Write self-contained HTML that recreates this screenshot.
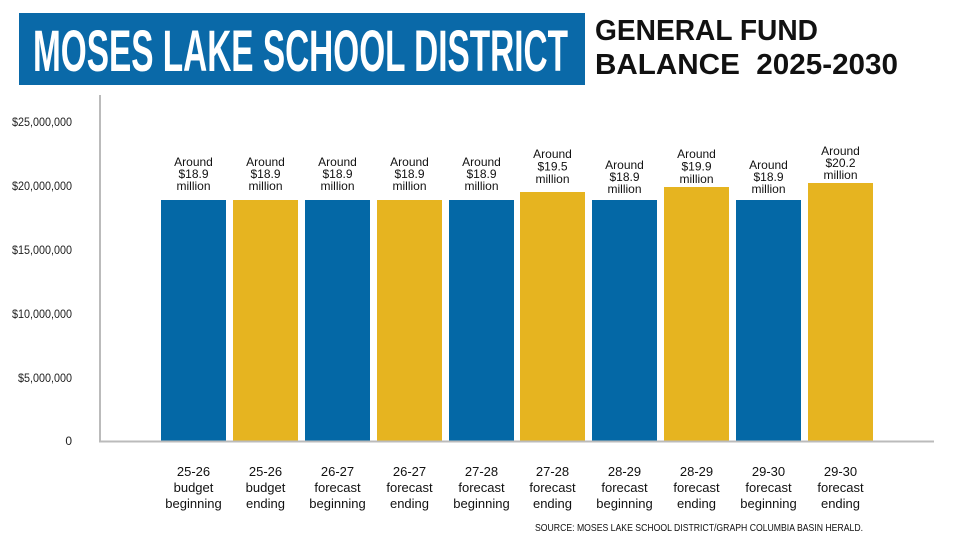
<!DOCTYPE html>
<html>
<head>
<meta charset="utf-8">
<style>
html,body{margin:0;padding:0;background:#fff;}
svg{display:block;}
text{font-family:"Liberation Sans",sans-serif;}
</style>
</head>
<body>
<svg width="960" height="540" viewBox="0 0 960 540" xmlns="http://www.w3.org/2000/svg">
<rect x="0" y="0" width="960" height="540" fill="#fff"/>
<!-- Title box -->
<rect x="19" y="13" width="566" height="72" fill="#0A69A8"/>
<text x="33" y="71" font-size="58" font-weight="bold" fill="#fff" textLength="535" lengthAdjust="spacingAndGlyphs">MOSES LAKE SCHOOL DISTRICT</text>
<text x="595" y="40" font-size="29" font-weight="bold" fill="#111" textLength="223" lengthAdjust="spacingAndGlyphs">GENERAL FUND</text>
<text x="595" y="74" font-size="29" font-weight="bold" fill="#111" textLength="303" lengthAdjust="spacingAndGlyphs" xml:space="preserve">BALANCE  2025-2030</text>

<!-- Y axis labels -->
<g font-size="12" fill="#222" text-anchor="end">
<text x="72" y="126" textLength="60" lengthAdjust="spacingAndGlyphs">$25,000,000</text>
<text x="72" y="190" textLength="60" lengthAdjust="spacingAndGlyphs">$20,000,000</text>
<text x="72" y="254" textLength="60" lengthAdjust="spacingAndGlyphs">$15,000,000</text>
<text x="72" y="318" textLength="60" lengthAdjust="spacingAndGlyphs">$10,000,000</text>
<text x="72" y="382" textLength="54" lengthAdjust="spacingAndGlyphs">$5,000,000</text>
<text x="72" y="445">0</text>
</g>

<!-- Bars -->
<g>
<rect x="161" y="200" width="65" height="241" fill="#0468A6"/>
<rect x="233" y="200" width="65" height="241" fill="#E6B420"/>
<rect x="305" y="200" width="65" height="241" fill="#0468A6"/>
<rect x="377" y="200" width="65" height="241" fill="#E6B420"/>
<rect x="449" y="200" width="65" height="241" fill="#0468A6"/>
<rect x="520" y="192" width="65" height="249" fill="#E6B420"/>
<rect x="592" y="200" width="65" height="241" fill="#0468A6"/>
<rect x="664" y="187" width="65" height="254" fill="#E6B420"/>
<rect x="736" y="200" width="65" height="241" fill="#0468A6"/>
<rect x="808" y="183" width="65" height="258" fill="#E6B420"/>
</g>

<!-- Axes -->
<line x1="100" y1="95" x2="100" y2="442" stroke="#bbb" stroke-width="2"/>
<line x1="99" y1="441.5" x2="934" y2="441.5" stroke="#bbb" stroke-width="2"/>

<!-- Value labels -->
<g font-size="12" fill="#111" text-anchor="middle">
<text x="193.5" y="166">Around</text><text x="193.5" y="178">$18.9</text><text x="193.5" y="190">million</text>
<text x="265.5" y="166">Around</text><text x="265.5" y="178">$18.9</text><text x="265.5" y="190">million</text>
<text x="337.5" y="166">Around</text><text x="337.5" y="178">$18.9</text><text x="337.5" y="190">million</text>
<text x="409.5" y="166">Around</text><text x="409.5" y="178">$18.9</text><text x="409.5" y="190">million</text>
<text x="481.5" y="166">Around</text><text x="481.5" y="178">$18.9</text><text x="481.5" y="190">million</text>
<text x="552.5" y="158">Around</text><text x="552.5" y="170.5">$19.5</text><text x="552.5" y="183">million</text>
<text x="624.5" y="169">Around</text><text x="624.5" y="181">$18.9</text><text x="624.5" y="193">million</text>
<text x="696.5" y="158">Around</text><text x="696.5" y="170.5">$19.9</text><text x="696.5" y="183">million</text>
<text x="768.5" y="169">Around</text><text x="768.5" y="181">$18.9</text><text x="768.5" y="193">million</text>
<text x="840.5" y="155">Around</text><text x="840.5" y="167">$20.2</text><text x="840.5" y="179">million</text>
</g>

<!-- X labels -->
<g font-size="13" fill="#111" text-anchor="middle">
<text x="193.5" y="476">25-26</text><text x="193.5" y="492">budget</text><text x="193.5" y="508">beginning</text>
<text x="265.5" y="476">25-26</text><text x="265.5" y="492">budget</text><text x="265.5" y="508">ending</text>
<text x="337.5" y="476">26-27</text><text x="337.5" y="492">forecast</text><text x="337.5" y="508">beginning</text>
<text x="409.5" y="476">26-27</text><text x="409.5" y="492">forecast</text><text x="409.5" y="508">ending</text>
<text x="481.5" y="476">27-28</text><text x="481.5" y="492">forecast</text><text x="481.5" y="508">beginning</text>
<text x="552.5" y="476">27-28</text><text x="552.5" y="492">forecast</text><text x="552.5" y="508">ending</text>
<text x="624.5" y="476">28-29</text><text x="624.5" y="492">forecast</text><text x="624.5" y="508">beginning</text>
<text x="696.5" y="476">28-29</text><text x="696.5" y="492">forecast</text><text x="696.5" y="508">ending</text>
<text x="768.5" y="476">29-30</text><text x="768.5" y="492">forecast</text><text x="768.5" y="508">beginning</text>
<text x="840.5" y="476">29-30</text><text x="840.5" y="492">forecast</text><text x="840.5" y="508">ending</text>
</g>

<text x="535" y="531" font-size="10.5" fill="#111" textLength="328" lengthAdjust="spacingAndGlyphs">SOURCE: MOSES LAKE SCHOOL DISTRICT/GRAPH COLUMBIA BASIN HERALD.</text>
</svg>
</body>
</html>
